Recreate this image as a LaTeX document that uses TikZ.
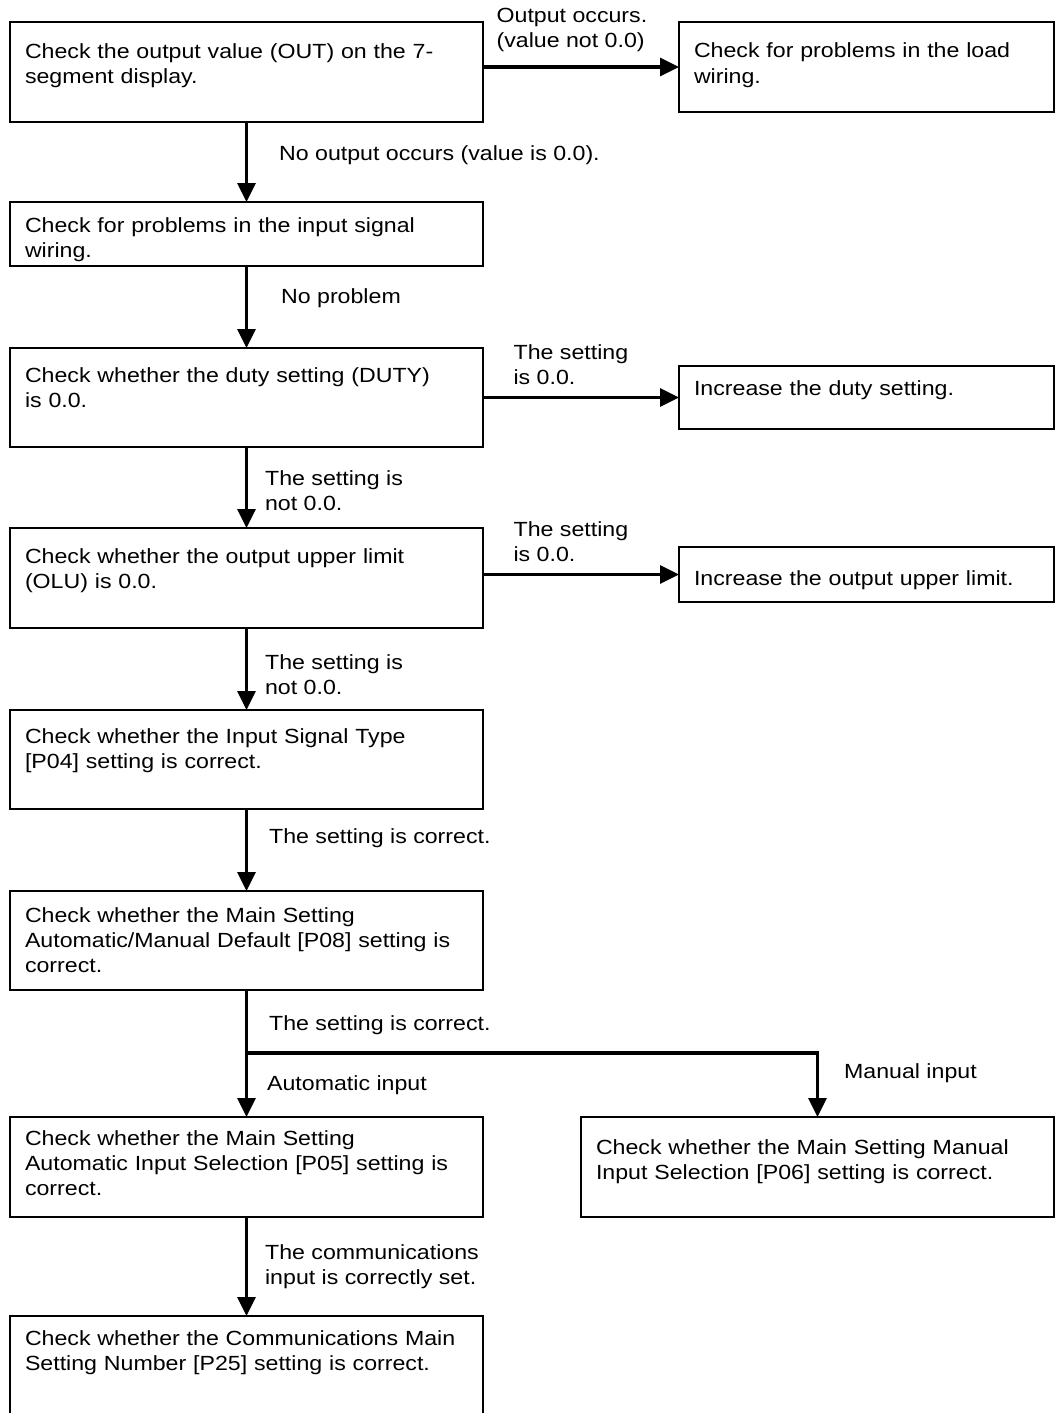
\documentclass[tikz,border=0pt]{standalone}
\usepackage{fontspec}
\setmainfont{Liberation Sans}[FakeStretch=1.13]
\usetikzlibrary{positioning,arrows.meta}

\begin{document}
\begin{tikzpicture}[x=1pt,y=-1pt,
      box/.style={draw,line width=1.6pt,outer sep=0pt,anchor=north west,align=left,inner xsep=15pt,inner ysep=0pt,text height=33pt,font=\fontsize{20.5}{25}\selectfont},
      lbl/.style={align=left,inner sep=0pt,font=\fontsize{20.5}{25}\selectfont},
      arr/.style={line width=3.2pt,-{Triangle[length=19pt,width=18pt]}}
    ]

    \useasboundingbox (0,0) rectangle (1056,1413);

    \node[box,text width=443pt,text height=37pt,text depth=63pt] (out) at (10,22) {Check the output value (OUT) on the 7-\\segment display.};
    \node[box,right=196pt of out.north east,anchor=north west,text width=345pt,text height=36pt,text depth=54pt] (load) {Check for problems in the load\\wiring.};
    \node[box,below=80pt of out.south west,anchor=north west,text width=443pt,text height=30pt,text depth=34pt] (wire) {Check for problems in the input signal\\wiring.};
    \node[box,below=82pt of wire.south west,anchor=north west,text width=443pt,text height=34pt,text depth=65pt] (duty) {Check whether the duty setting (DUTY)\\is 0.0.};
    \node[box,below right=18pt and 196pt of duty.north east,anchor=north west,text width=345pt,text height=29pt,text depth=34pt] (incduty) {Increase the duty setting.};
    \node[box,below=81pt of duty.south west,anchor=north west,text width=443pt,text height=35pt,text depth=65pt] (olu) {Check whether the output upper limit\\(OLU) is 0.0.};
    \node[box,below right=19pt and 196pt of olu.north east,anchor=north west,text width=345pt,text height=38pt,text depth=17pt] (incolu) {Increase the output upper limit.};
    \node[box,below=82pt of olu.south west,anchor=north west,text width=443pt,text height=33pt,text depth=66pt] (ptype) {Check whether the Input Signal Type\\{[P04]} setting is correct.};
    \node[box,below=82pt of ptype.south west,anchor=north west,text width=443pt,text height=31pt,text depth=68pt] (pdef) {Check whether the Main Setting\\Automatic/Manual Default [P08] setting is\\correct.};
    \node[box,below=127pt of pdef.south west,anchor=north west,text width=443pt,text height=28pt,text depth=72pt] (pauto) {Check whether the Main Setting\\Automatic Input Selection [P05] setting is\\correct.};
    \node[box,right=98pt of pauto.north east,anchor=north west,text width=443pt,text height=37pt,text depth=63pt] (pman) {Check whether the Main Setting Manual\\Input Selection [P06] setting is correct.};
    \node[box,draw=none,below=99pt of pauto.south west,anchor=north west,text width=443pt,text height=29pt,text depth=68pt] (pcom) {Check whether the Communications Main\\Setting Number [P25] setting is correct.};
    \draw[line width=1.6pt] (pcom.south west) -- (pcom.north west) -- (pcom.north east) -- (pcom.south east);

    \coordinate[below=63pt of pdef.south] (split);

    \draw[arr] (out.east |- load.west) -- node[lbl,pos=0,anchor=south west,xshift=12pt,yshift=14pt] {Output occurs.\\(value not 0.0)} (load.west);
    \draw[arr] (out) -- node[lbl,right=31pt,yshift=7pt] {No output occurs (value is 0.0).} (wire);
    \draw[arr] (wire) -- node[lbl,right=33pt,yshift=9pt] {No problem} (duty);
    \draw[arr] (duty.east |- incduty.west) -- node[lbl,pos=0,anchor=south west,xshift=29pt,yshift=11pt] {The setting\\is 0.0.} (incduty.west);
    \draw[arr] (duty) -- node[lbl,right=17pt,yshift=-3pt] {The setting is\\not 0.0.} (olu);
    \draw[arr] (olu.east |- incolu.west) -- node[lbl,pos=0,anchor=south west,xshift=29pt,yshift=11pt] {The setting\\is 0.0.} (incolu.west);
    \draw[arr] (olu) -- node[lbl,right=17pt,yshift=-6pt] {The setting is\\not 0.0.} (ptype);
    \draw[arr] (ptype) -- node[lbl,right=21pt,yshift=12pt] {The setting is correct.} (pdef);
    \draw[line width=3.2pt] (pdef) -- node[lbl,right=21pt,yshift=-4pt] {The setting is correct.} (split);
    \draw[arr] (split) -- node[lbl,right=19pt] {Automatic input} (pauto);
    \draw[arr] (split) -| node[lbl,pos=0.75,right=25pt,yshift=12pt] {Manual input} (pman);
    \draw[arr] (pauto) -- node[lbl,right=17pt] {The communications\\input is correctly set.} (pcom);

  \end{tikzpicture}
\end{document}
